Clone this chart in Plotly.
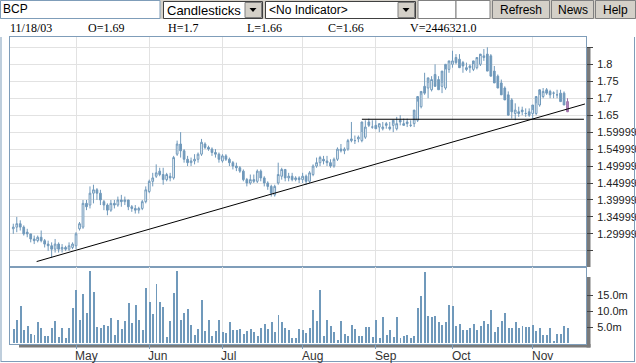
import plotly.graph_objects as go

# ---------------- data ----------------
opens = [1.315,1.32,1.33,1.32,1.305,1.30,1.285,1.28,1.29,1.28,1.27,1.265,1.255,1.27,1.255,1.26,1.255,1.26,
         1.265,1.315,1.32,1.39,1.385,1.42,1.43,1.42,1.395,1.385,1.37,1.39,1.385,1.40,1.395,1.40,1.38,1.375,1.37,1.375,1.395,
         1.425,1.455,1.47,1.485,1.475,1.46,1.47,1.465,1.535,1.565,1.545,1.52,1.51,1.515,1.52,1.535,1.565,1.555,1.55,1.54,1.535,
         1.515,1.53,1.52,1.51,1.50,1.495,1.485,1.46,1.45,1.46,1.455,1.485,1.465,1.45,1.44,1.415,1.45,1.47,1.49,1.465,1.47,1.46,1.465,
         1.46,1.47,1.455,1.475,1.50,1.51,1.52,1.515,1.51,1.50,1.52,1.55,1.545,1.55,1.575,1.575,1.58,1.575,1.585,1.63,1.615,
         1.62,1.615,1.61,1.625,1.615,1.62,1.61,1.635,1.625,1.63,1.62,1.625,1.635,1.675,1.735,1.73,1.725,1.77,1.755,1.735,1.73,1.785,
         1.80,1.82,1.815,1.805,1.79,1.795,1.785,1.79,1.80,1.82,1.83,1.825,1.78,1.765,1.745,1.73,1.71,1.695,1.655,
         1.66,1.665,1.655,1.66,1.655,1.655,1.68,1.705,1.725,1.72,1.715,1.71,1.715,1.715,1.695,1.69]
highs = [1.33,1.35,1.34,1.325,1.315,1.30,1.295,1.295,1.31,1.285,1.28,1.275,1.285,1.275,1.27,1.265,1.275,1.275,
         1.305,1.335,1.40,1.40,1.44,1.445,1.435,1.43,1.40,1.39,1.40,1.40,1.41,1.415,1.41,1.40,1.385,1.385,1.38,1.40,1.44,
         1.46,1.48,1.505,1.495,1.495,1.48,1.48,1.53,1.575,1.60,1.55,1.53,1.525,1.535,1.54,1.58,1.57,1.56,1.555,1.55,1.54,
         1.535,1.535,1.525,1.515,1.51,1.50,1.49,1.465,1.475,1.475,1.49,1.49,1.47,1.455,1.445,1.445,1.51,1.495,1.49,1.48,1.48,1.47,1.47,
         1.48,1.475,1.485,1.505,1.525,1.53,1.53,1.53,1.52,1.525,1.555,1.565,1.555,1.58,1.63,1.59,1.59,1.60,1.635,1.64,1.635,
         1.635,1.625,1.63,1.63,1.63,1.625,1.645,1.65,1.64,1.64,1.635,1.635,1.69,1.71,1.775,1.745,1.765,1.80,1.765,1.745,1.785,1.805,
         1.84,1.83,1.83,1.81,1.805,1.80,1.80,1.815,1.825,1.845,1.85,1.83,1.795,1.77,1.755,1.735,1.72,1.70,1.685,
         1.675,1.675,1.67,1.67,1.665,1.685,1.71,1.73,1.73,1.725,1.72,1.725,1.725,1.72,1.705,1.70]
lows = [1.30,1.305,1.31,1.295,1.29,1.275,1.27,1.275,1.275,1.26,1.25,1.23,1.245,1.245,1.245,1.25,1.25,1.255,
        1.255,1.31,1.315,1.37,1.375,1.39,1.40,1.385,1.37,1.355,1.365,1.375,1.38,1.38,1.385,1.37,1.365,1.36,1.36,1.37,1.39,
        1.42,1.44,1.465,1.47,1.445,1.455,1.455,1.46,1.53,1.525,1.51,1.50,1.50,1.505,1.51,1.53,1.55,1.545,1.53,1.525,1.51,
        1.51,1.515,1.50,1.49,1.485,1.48,1.455,1.44,1.445,1.45,1.45,1.455,1.44,1.43,1.41,1.41,1.445,1.46,1.455,1.455,1.455,1.455,1.45,
        1.45,1.445,1.45,1.47,1.495,1.50,1.505,1.50,1.495,1.495,1.515,1.54,1.535,1.545,1.57,1.565,1.57,1.57,1.58,1.615,1.61,
        1.61,1.60,1.605,1.61,1.605,1.60,1.605,1.62,1.62,1.615,1.615,1.615,1.63,1.67,1.71,1.70,1.72,1.745,1.725,1.715,1.725,1.775,
        1.79,1.80,1.80,1.775,1.78,1.775,1.78,1.785,1.795,1.81,1.815,1.765,1.755,1.73,1.72,1.70,1.685,1.64,1.635,
        1.645,1.65,1.645,1.645,1.64,1.65,1.675,1.70,1.71,1.70,1.70,1.70,1.70,1.68,1.67,1.66]
closes = [1.32,1.33,1.32,1.30,1.30,1.285,1.28,1.29,1.28,1.27,1.265,1.255,1.27,1.255,1.26,1.255,1.265,1.27,
          1.30,1.33,1.39,1.38,1.42,1.43,1.42,1.40,1.385,1.37,1.39,1.385,1.40,1.395,1.40,1.38,1.375,1.37,1.375,1.395,1.43,
          1.455,1.465,1.48,1.475,1.46,1.475,1.465,1.525,1.565,1.545,1.52,1.51,1.515,1.52,1.535,1.57,1.555,1.55,1.54,1.535,1.52,
          1.53,1.52,1.51,1.50,1.495,1.485,1.46,1.45,1.46,1.455,1.485,1.465,1.45,1.44,1.42,1.44,1.475,1.49,1.465,1.47,1.46,1.465,1.46,
          1.47,1.455,1.48,1.50,1.51,1.525,1.515,1.51,1.50,1.52,1.55,1.545,1.55,1.575,1.58,1.575,1.585,1.63,1.615,1.62,
          1.615,1.61,1.625,1.615,1.62,1.61,1.635,1.625,1.63,1.62,1.625,1.62,1.665,1.705,1.72,1.715,1.76,1.755,1.735,1.725,1.78,1.80,
          1.81,1.81,1.805,1.79,1.795,1.785,1.79,1.81,1.82,1.83,1.825,1.78,1.765,1.745,1.73,1.71,1.695,1.65,1.66,
          1.665,1.655,1.66,1.655,1.65,1.68,1.705,1.725,1.72,1.715,1.71,1.715,1.71,1.69,1.68,1.66]
volumes_m = [4.3,7.4,11.5,4.1,5.5,3.0,2.7,6.6,4.8,2.4,2.4,4.6,6.9,1.8,4.6,1.5,4.9,11.1,
             16.5,7.1,15.5,9.3,22.7,15.9,5.1,4.9,5.8,5.5,8.0,2.7,7.4,4.3,6.8,12.5,6.4,11.8,7.4,4.0,
             17.1,12.8,9.0,18.6,12.8,11.2,1.8,6.8,15.6,22.7,7.4,9.5,10.8,5.8,2.7,4.3,13.6,3.7,7.4,2.4,3.8,
             7.1,3.4,3.3,6.6,4.1,4.1,4.3,3.0,3.8,4.3,3.6,2.4,4.6,6.1,4.5,6.6,3.4,8.9,6.6,4.7,4.0,1.7,1.7,4.3,
             4.1,3.3,4.7,10.5,6.8,16.5,2.2,7.4,5.3,3.4,0.9,6.9,3.0,2.2,5.6,4.3,2.2,2.2,5.2,5.0,2.0,
             7.1,1.5,8.1,2.6,4.1,1.8,8.3,1.5,2.4,2.5,1.6,2.2,10.9,14.7,22.2,8.4,8.1,8.6,6.6,5.6,6.7,11.9,
             11.5,5.5,6.1,4.1,4.1,4.9,6.1,4.1,5.3,6.8,5.9,10.5,3.4,5.2,6.9,9.3,4.6,4.9,6.6,4.7,5.5,5.0,5.2,
             5.8,3.8,4.9,2.6,2.6,4.9,0.7,2.8,3.0,5.3,4.6,2.446321]
month_labels = ["May", "Jun", "Jul", "Aug", "Sep", "Oct", "Nov"]
month_start_idx = [18, 39, 60, 83, 104, 126, 149]
price_grid = [1.25, 1.30, 1.35, 1.40, 1.45, 1.50, 1.55, 1.60, 1.65, 1.70, 1.75, 1.80, 1.85]
price_ticktext = ["", "1.29999", "1.34999", "1.39999", "1.44999", "1.49999", "1.54999", "1.59999",
                  "1.65", "1.7", "1.75", "1.8", ""]
vol_ticks = [5e6, 10e6, 15e6]
vol_ticktext = ["5.0m", "10.0m", "15.0m"]
trend_x = [6.7, 164.0]
trend_y = [1.2184, 1.683]
support_x = [100.0, 163.7]
support_y = [1.638, 1.638]
info_items = ["11/18/03", "O=1.69", "H=1.7", "L=1.66", "C=1.66", "V=2446321.0"]

n = len(closes)
xs = list(range(n))
volumes = [v * 1e6 for v in volumes_m]

# ---------------- geometry helpers (paper coords) ----------------
W, H = 636, 363
def fx(x): return x / W
def fy(y): return 1 - y / H

CAND = "#7099bb"
BORDER = "#7f9db9"
GRID = "#e2e2e2"
SHADOW = "#7a7a7a"

fig = go.Figure()
fig.add_trace(go.Candlestick(
    x=xs[:-1], open=opens[:-1], high=highs[:-1], low=lows[:-1], close=closes[:-1],
    increasing=dict(line=dict(color=CAND, width=1), fillcolor="white"),
    decreasing=dict(line=dict(color=CAND, width=1), fillcolor=CAND),
    whiskerwidth=0, xaxis="x", yaxis="y", showlegend=False, hoverinfo="skip"))
fig.add_trace(go.Candlestick(
    x=xs[-1:], open=opens[-1:], high=highs[-1:], low=lows[-1:], close=closes[-1:],
    increasing=dict(line=dict(color="#9b6fa6", width=1), fillcolor="white"),
    decreasing=dict(line=dict(color="#9b6fa6", width=1), fillcolor="#b58cc0"),
    whiskerwidth=0, xaxis="x", yaxis="y", showlegend=False, hoverinfo="skip"))
fig.add_trace(go.Scatter(x=trend_x, y=trend_y, mode="lines", line=dict(color="black", width=1),
                         xaxis="x", yaxis="y", showlegend=False, hoverinfo="skip"))
fig.add_trace(go.Scatter(x=support_x, y=support_y, mode="lines", line=dict(color="black", width=1.2),
                         xaxis="x", yaxis="y", showlegend=False, hoverinfo="skip"))
fig.add_trace(go.Bar(x=xs, y=volumes, width=0.28, marker=dict(color=CAND, line=dict(width=0)),
                     xaxis="x2", yaxis="y2", showlegend=False, hoverinfo="skip"))

xdom = [fx(9.7), fx(586)]
axfont = dict(family="Liberation Sans, Arial, sans-serif", size=11, color="#222222")
fig.update_layout(
    width=W, height=H, margin=dict(l=0, r=0, t=0, b=0),
    paper_bgcolor="white", plot_bgcolor="white",
    boxgap=0.3, boxgroupgap=0.3, bargap=0,
    xaxis=dict(domain=xdom, anchor="y", range=[-1.03, 164.3], rangeslider=dict(visible=False),
               tickvals=month_start_idx, showticklabels=False, showgrid=True, gridcolor=GRID,
               ticks="", showline=True, mirror=True, linecolor=BORDER, zeroline=False, fixedrange=True),
    yaxis=dict(domain=[fy(267.3), fy(37.3)], anchor="x", range=[1.2015, 1.8796], side="right",
               tickvals=price_grid, ticktext=price_ticktext, showgrid=True, gridcolor=GRID,
               ticks="outside", ticklen=6, tickcolor="#444444", tickfont=axfont, ticklabelstandoff=2,
               showline=True, mirror=True, linecolor=BORDER, zeroline=False),
    xaxis2=dict(domain=xdom, anchor="y2", matches="x", range=[-1.03, 164.3],
                tickvals=month_start_idx, showticklabels=False,
                ticks="outside", ticklen=4, tickcolor=BORDER,
                showgrid=True, gridcolor=GRID, showline=True, mirror=True, linecolor=BORDER, zeroline=False),
    yaxis2=dict(domain=[fy(343.5), fy(267.3)], anchor="x2", range=[0, 23.8e6], side="right",
                tickvals=vol_ticks, ticktext=vol_ticktext, showgrid=False,
                ticks="outside", ticklen=6, tickcolor="#444444", tickfont=axfont, ticklabelstandoff=2,
                showline=True, mirror=True, linecolor=BORDER, zeroline=False),
)

shapes = []
def rect(x0, y0, x1, y1, fill=None, line=None, lw=1, layer="above"):
    shapes.append(dict(type="rect", xref="paper", yref="paper", x0=fx(x0), x1=fx(x1), y0=fy(y1), y1=fy(y0),
                       fillcolor=fill if fill else "rgba(0,0,0,0)",
                       line=dict(color=line if line else "rgba(0,0,0,0)", width=lw if line else 0), layer=layer))
def hline(x0, x1, y, color, lw=1):
    shapes.append(dict(type="line", xref="paper", yref="paper", x0=fx(x0), x1=fx(x1), y0=fy(y), y1=fy(y),
                       line=dict(color=color, width=lw)))
def vline(x, y0, y1, color, lw=1):
    shapes.append(dict(type="line", xref="paper", yref="paper", x0=fx(x), x1=fx(x), y0=fy(y0), y1=fy(y1),
                       line=dict(color=color, width=lw)))

# panel shadows
rect(586.5, 47, 590.5, 267, fill=SHADOW, layer="below")
rect(586.5, 277, 590.5, 347.5, fill=SHADOW, layer="below")
rect(19, 344, 590.5, 347.5, fill=SHADOW, layer="below")
# outer frame
vline(1, 37, 362, BORDER)
vline(634.5, 37, 362, BORDER)
hline(1, 634.5, 361.5, BORDER)

# header controls
rect(0, 0, 636, 19, fill="#d4d0c8", layer="below")
rect(0.5, 0.5, 160, 18.5, fill="white", line="#7f9db9")
rect(163.5, 1.5, 262.5, 18.5, fill="white", line="#404040")
rect(245, 2.5, 261.5, 17.5, fill="#d4d0c8", line="#808080")
rect(265.5, 1.5, 415.5, 18.5, fill="white", line="#404040")
rect(398, 2.5, 414.5, 17.5, fill="#d4d0c8", line="#808080")
rect(418, 0.5, 456, 18.5, fill="white", line="#808080")
rect(456, 0.5, 490, 18.5, fill="white", line="#808080")
rect(492.5, 0.5, 549.5, 18.5, fill="#d4d0c8", line="#808080")
rect(551.5, 0.5, 593.5, 18.5, fill="#d4d0c8", line="#808080")
rect(595.5, 0.5, 635.5, 18.5, fill="#d4d0c8", line="#808080")
for ax0 in (253, 406):
    shapes.append(dict(type="path", xref="paper", yref="paper",
                       path=f"M {fx(ax0-3.5)},{fy(8)} L {fx(ax0+3.5)},{fy(8)} L {fx(ax0)},{fy(12)} Z",
                       fillcolor="black", line=dict(width=0)))
fig.update_layout(shapes=shapes)

ann = []
def text(x, y, s, size=12, family="Liberation Sans, Arial, sans-serif", xanchor="left", color="black",
         xref="paper", xshift=0):
    ann.append(dict(xref=xref, yref="paper", x=fx(x) if xref == "paper" else x, y=fy(y), text=s, showarrow=False,
                    xanchor=xanchor, yanchor="middle", font=dict(size=size, family=family, color=color),
                    borderpad=0, xshift=xshift))
text(2, 9.5, "BCP")
text(166, 10, "Candlesticks", size=13)
text(268, 10, "&lt;No Indicator&gt;", size=12)
text(521, 10, "Refresh", xanchor="center")
text(572.5, 10, "News", xanchor="center")
text(615.5, 10, "Help", xanchor="center")
info_x = [9, 87, 167, 246, 327, 409]
for xx, s in zip(info_x, info_items):
    text(xx, 28, s, size=12, family="Liberation Serif, Times New Roman, serif")
for idx, lab in zip(month_start_idx, month_labels):
    text(idx, 355.5, lab, size=12, color="#333333", xref="x2", xshift=-2)
fig.update_layout(annotations=ann)

fig.write_html("out.html", config={"displayModeBar": False},
               post_script="document.body.style.margin='0';document.body.style.overflow='hidden';")
